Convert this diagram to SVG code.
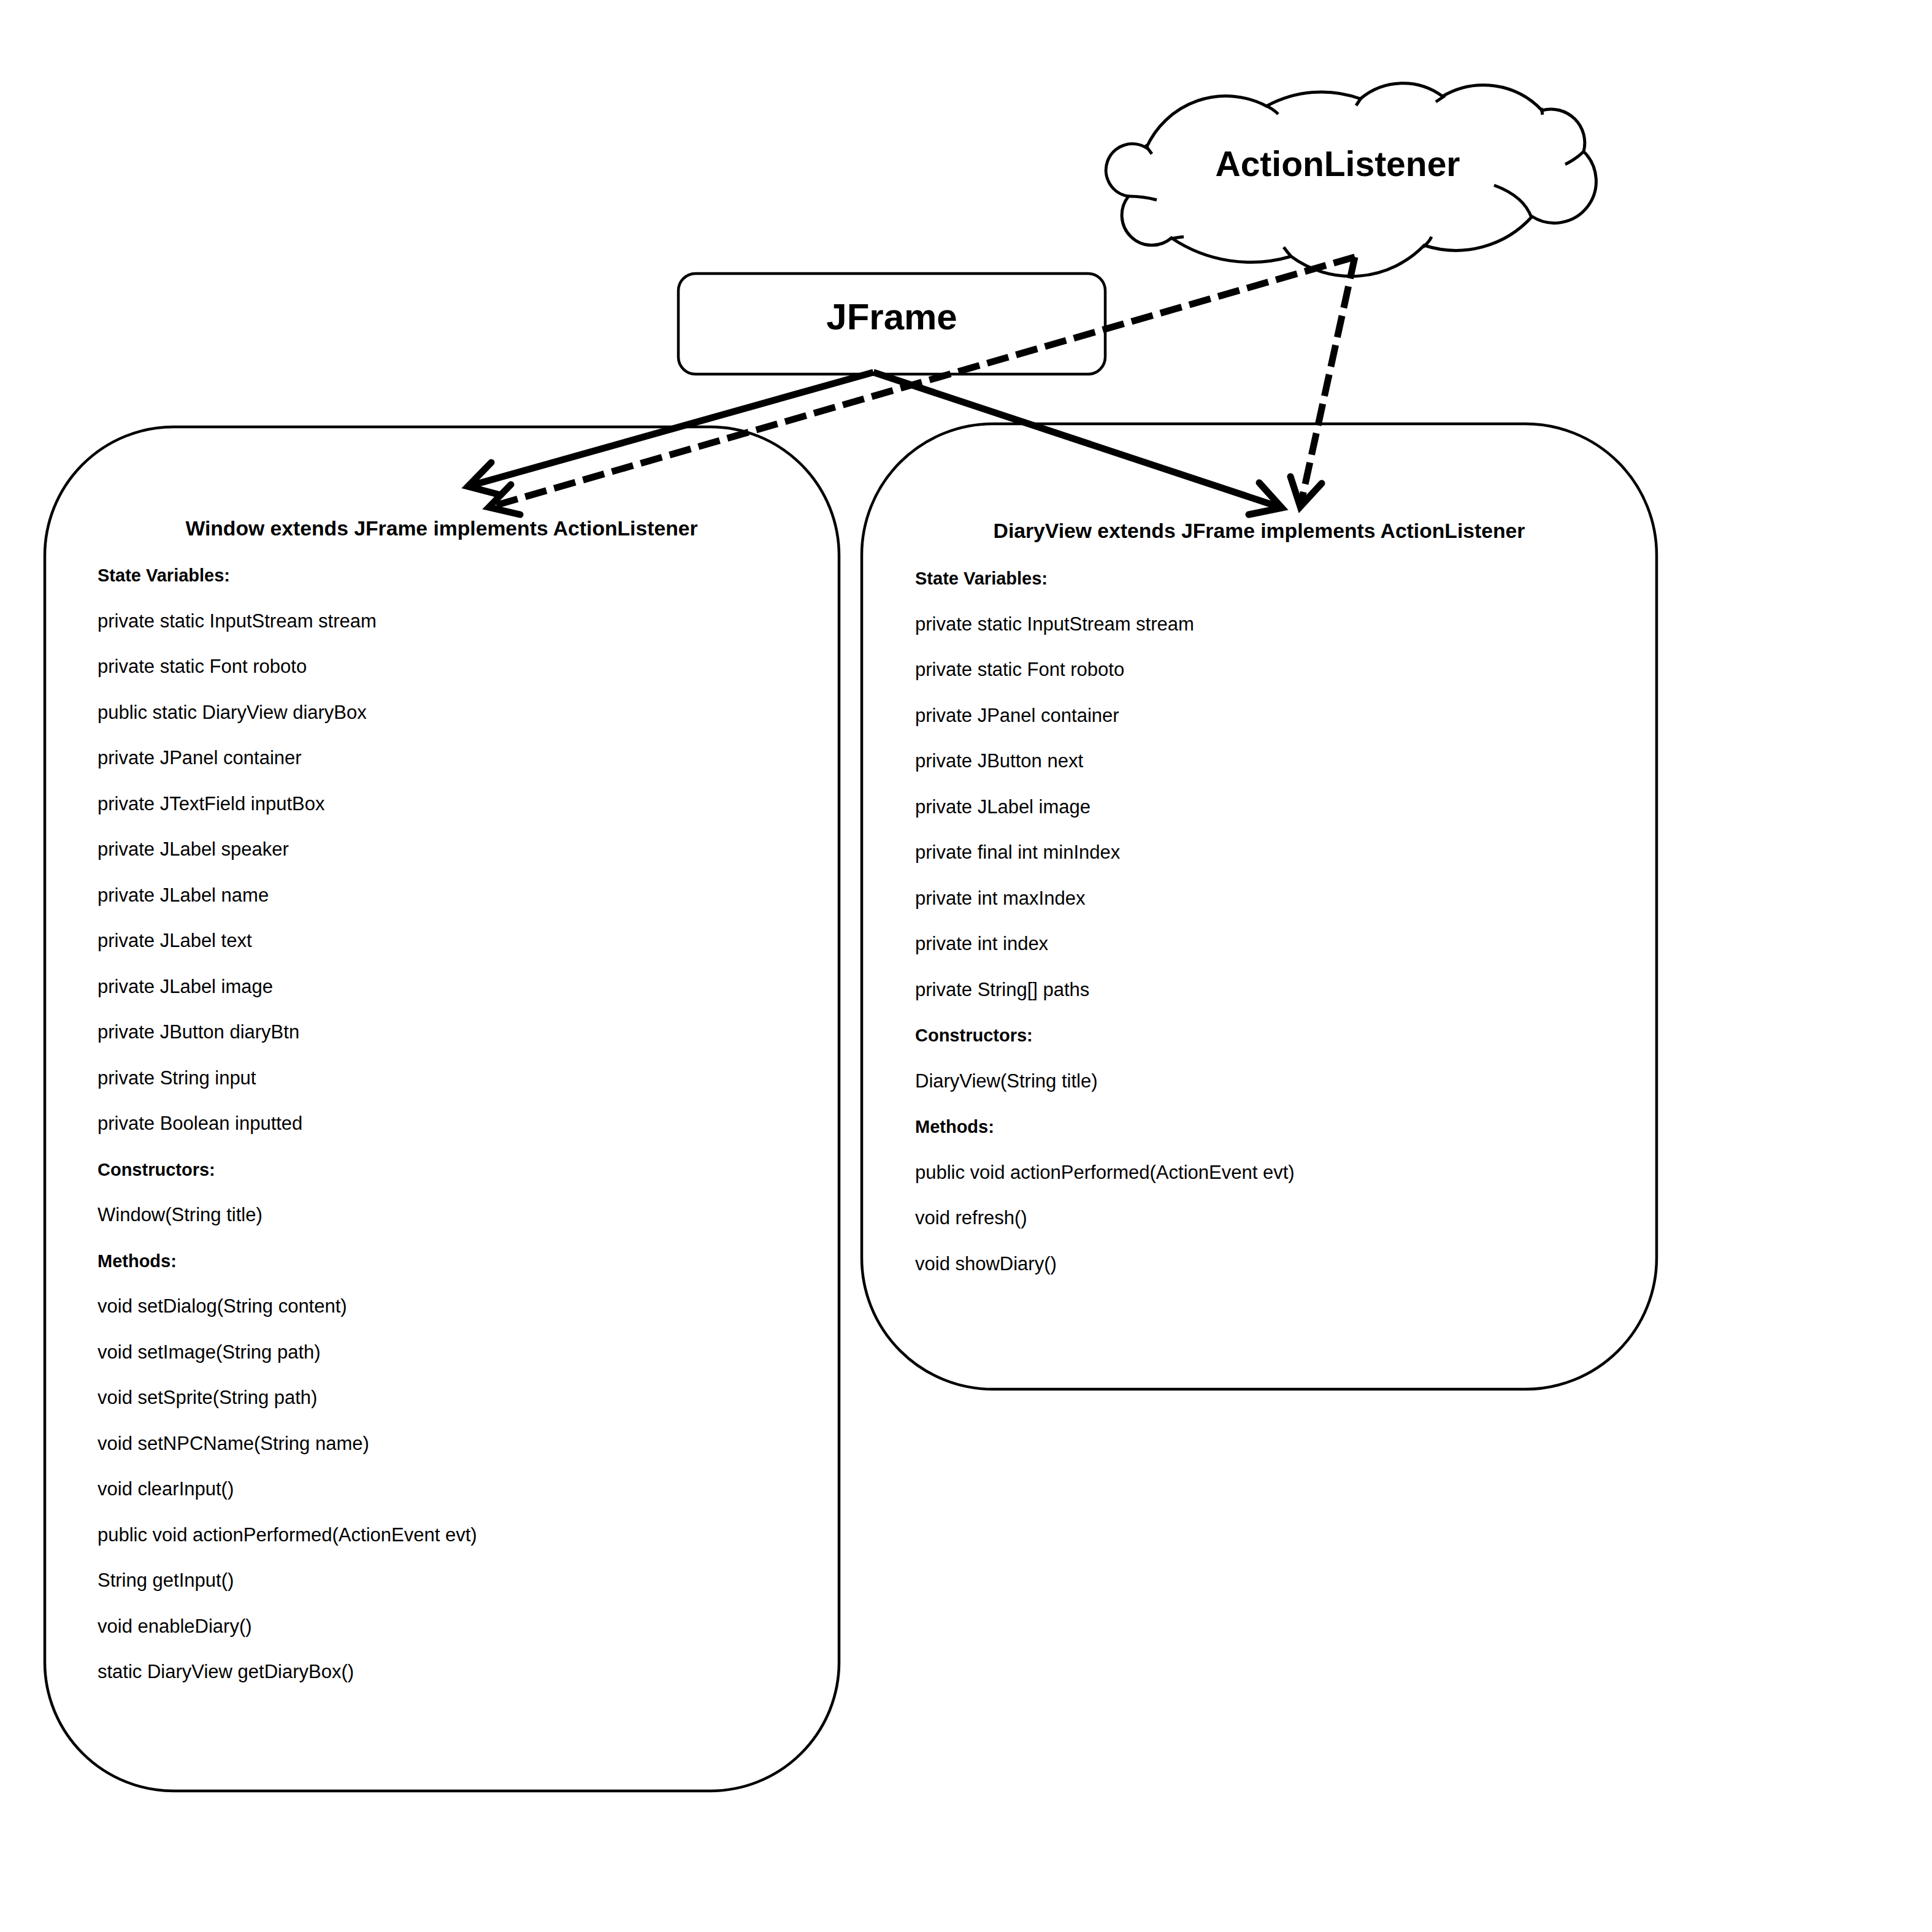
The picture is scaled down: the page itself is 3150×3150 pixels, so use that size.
<svg xmlns="http://www.w3.org/2000/svg" width="3150" height="3150" viewBox="0 0 3150 3150">
<style>
.box{fill:#fff;stroke:#000;stroke-width:4.5}
.cl{fill:none;stroke:#000;stroke-width:5;stroke-linecap:butt}
.big{font-family:"Liberation Sans",Arial,sans-serif;font-weight:bold;text-anchor:middle;fill:#000}
.ttl{font-family:"Liberation Sans",Arial,sans-serif;font-weight:bold;font-size:33.7px;text-anchor:middle;fill:#000}
.lbl{font-family:"Liberation Sans",Arial,sans-serif;font-weight:bold;font-size:29px;fill:#000}
.t{font-family:"Liberation Sans",Arial,sans-serif;font-size:31px;fill:#000}
.sol{fill:none;stroke:#000;stroke-width:11}
.dsh{fill:none;stroke:#000;stroke-width:11;stroke-dasharray:36 13}
.head{fill:none;stroke:#000;stroke-width:11;stroke-linecap:round;stroke-linejoin:miter}
</style>
<rect width="3150" height="3150" fill="#fff"/>

<g id="window">
<rect class="box" x="73" y="696" width="1295" height="2224" rx="210" ry="210"/>
<text class="ttl" x="720" y="873">Window extends JFrame implements ActionListener</text>
<text class="lbl" x="159" y="948">State Variables:</text>
<text class="t" x="159" y="1022.5">private static InputStream stream</text>
<text class="t" x="159" y="1097">private static Font roboto</text>
<text class="t" x="159" y="1171.5">public static DiaryView diaryBox</text>
<text class="t" x="159" y="1246">private JPanel container</text>
<text class="t" x="159" y="1320.5">private JTextField inputBox</text>
<text class="t" x="159" y="1395">private JLabel speaker</text>
<text class="t" x="159" y="1469.5">private JLabel name</text>
<text class="t" x="159" y="1544">private JLabel text</text>
<text class="t" x="159" y="1618.5">private JLabel image</text>
<text class="t" x="159" y="1693">private JButton diaryBtn</text>
<text class="t" x="159" y="1767.5">private String input</text>
<text class="t" x="159" y="1842">private Boolean inputted</text>
<text class="lbl" x="159" y="1916.5">Constructors:</text>
<text class="t" x="159" y="1991">Window(String title)</text>
<text class="lbl" x="159" y="2065.5">Methods:</text>
<text class="t" x="159" y="2140">void setDialog(String content)</text>
<text class="t" x="159" y="2214.5">void setImage(String path)</text>
<text class="t" x="159" y="2289">void setSprite(String path)</text>
<text class="t" x="159" y="2363.5">void setNPCName(String name)</text>
<text class="t" x="159" y="2438">void clearInput()</text>
<text class="t" x="159" y="2512.5">public void actionPerformed(ActionEvent evt)</text>
<text class="t" x="159" y="2587">String getInput()</text>
<text class="t" x="159" y="2661.5">void enableDiary()</text>
<text class="t" x="159" y="2736">static DiaryView getDiaryBox()</text>
</g>

<g id="diaryview">
<rect class="box" x="1405" y="691" width="1296" height="1574" rx="214" ry="214"/>
<text class="ttl" x="2053" y="877">DiaryView extends JFrame implements ActionListener</text>
<text class="lbl" x="1492" y="953">State Variables:</text>
<text class="t" x="1492" y="1027.5">private static InputStream stream</text>
<text class="t" x="1492" y="1102">private static Font roboto</text>
<text class="t" x="1492" y="1176.5">private JPanel container</text>
<text class="t" x="1492" y="1251">private JButton next</text>
<text class="t" x="1492" y="1325.5">private JLabel image</text>
<text class="t" x="1492" y="1400">private final int minIndex</text>
<text class="t" x="1492" y="1474.5">private int maxIndex</text>
<text class="t" x="1492" y="1549">private int index</text>
<text class="t" x="1492" y="1623.5">private String[] paths</text>
<text class="lbl" x="1492" y="1698">Constructors:</text>
<text class="t" x="1492" y="1772.5">DiaryView(String title)</text>
<text class="lbl" x="1492" y="1847">Methods:</text>
<text class="t" x="1492" y="1921.5">public void actionPerformed(ActionEvent evt)</text>
<text class="t" x="1492" y="1996">void refresh()</text>
<text class="t" x="1492" y="2070.5">void showDiary()</text>
</g>

<g id="jframe">
<rect class="box" x="1106" y="446" width="696" height="164" rx="28" ry="28"/>
<text class="big" x="1454" y="537" font-size="60">JFrame</text>
</g>

<g id="actionlistener">
<path class="cl" d="M 1869 241 A 142 142 0 0 1 2065 173 A 186 186 0 0 1 2218 161 A 108 108 0 0 1 2352 157 A 131 131 0 0 1 2514 180 A 55 55 0 0 1 2582 247 A 68 68 0 0 1 2498 353 A 167 167 0 0 1 2322 400 A 165 165 0 0 1 2105 418 A 231 231 0 0 1 1910 388 A 49 49 0 0 1 1840 320 A 43 43 0 1 1 1869 241 Z"/>
<path class="cl" d="M 1867 236 Q 1873 244 1878 251 M 1840 320 Q 1864 320 1886 326 M 1910 389 Q 1920 387 1930 386 M 2105 418 Q 2098 410 2093 403 M 2320 403 Q 2330 395 2334 386 M 2497 355 Q 2485 320 2436 302 M 2582 247 Q 2570 259 2552 268 M 2513 176 L 2515 187 M 2356 156 L 2341 166 M 2219 160 L 2211 172 M 2063 172 Q 2075 177 2084 186"/>
<text class="big" x="2181" y="287" font-size="57">ActionListener</text>
</g>

<g id="connectors">
<line class="sol" x1="1424" y1="607" x2="763" y2="793"/>
<polyline class="head" points="801,754 763,793 816,807"/>
<line class="sol" x1="1424" y1="607" x2="2090" y2="828"/>
<polyline class="head" points="2053,787 2090,828 2036,839"/>
<line class="dsh" x1="2209" y1="419" x2="797" y2="827"/>
<polyline class="head" points="833,790 797,827 848,839"/>
<line class="dsh" x1="2209" y1="419" x2="2120" y2="826"/>
<polyline class="head" points="2155,788 2120,826 2104,777"/>
</g>
</svg>
